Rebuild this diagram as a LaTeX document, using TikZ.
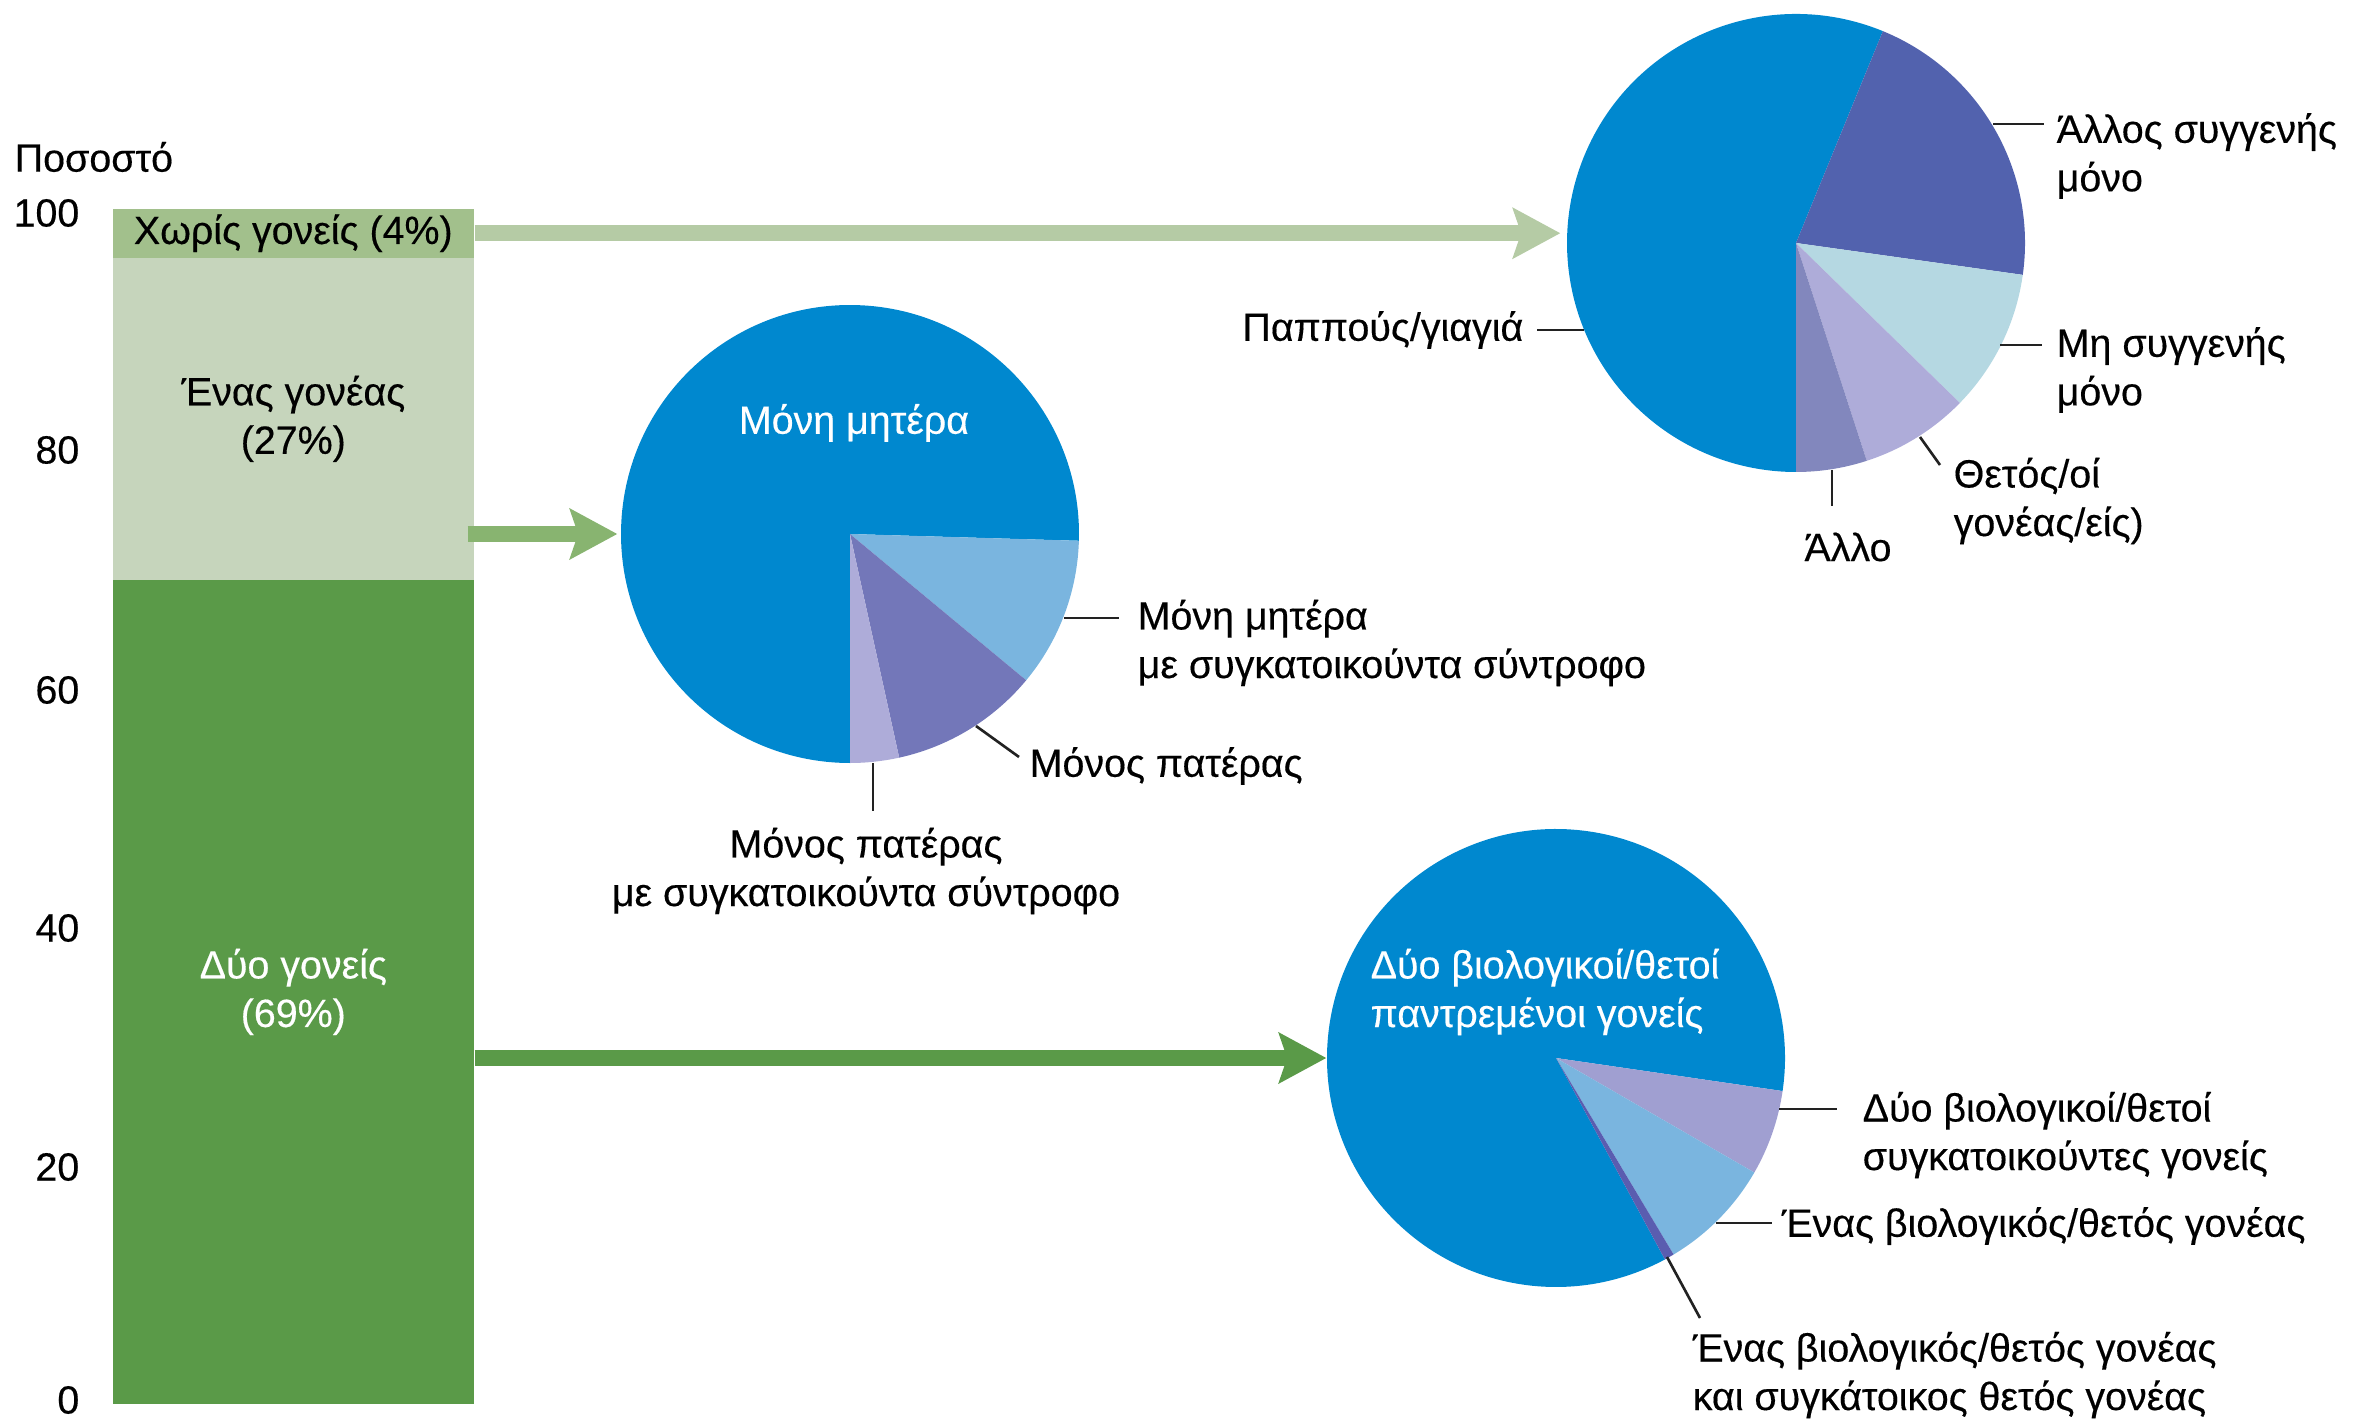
\documentclass[tikz,border=0pt]{standalone}
\usepackage{fontspec}
\setmainfont{Liberation Sans}[FakeBold=0.35]
\usetikzlibrary{arrows.meta}
\definecolor{segTopC}{HTML}{A2C08C}
\definecolor{segMidC}{HTML}{C6D5BC}
\definecolor{segBotC}{HTML}{5A9A48}
\definecolor{arrAC}{HTML}{B5CBA5}
\definecolor{arrBC}{HTML}{88B470}
\definecolor{arrCC}{HTML}{5A9A48}
\definecolor{pieBlue}{HTML}{0088CF}
\definecolor{pIndigo}{HTML}{5262AE}
\definecolor{pIce}{HTML}{B5D8E2}
\definecolor{pLilac}{HTML}{AEACD9}
\definecolor{pSlate}{HTML}{8287BD}
\definecolor{pSky}{HTML}{7AB5DF}
\definecolor{pViolet}{HTML}{7377B9}
\definecolor{pLav}{HTML}{A09FD1}
\definecolor{pDeep}{HTML}{5A5DB0}
\definecolor{leadC}{HTML}{222222}
\begin{document}
\begin{tikzpicture}[x=0.01cm,y=0.01cm,
  lbl/.style={font=\fontsize{11.2}{13.8}\selectfont, inner sep=0pt, text=black},
  seg/.style={rectangle, inner sep=0pt, minimum width=3.61cm, anchor=north west, align=center, font=\fontsize{11.2}{13.8}\selectfont},
  piebase/.style={circle, minimum size=4.58cm, inner sep=0pt},
  leader/.style={draw=leadC, line width=0.75pt},
  bigarrow/.style={line width=0.16cm, -{Stealth[length=0.48cm, width=0.52cm, inset=0.09cm, line width=0pt]}}
]
\useasboundingbox (0,0) rectangle (2366,1423);

% axis labels
\node[lbl, anchor=west] (axT) at (14,1266) {Ποσοστό};
\node[lbl, anchor=east] (ax100) at (80,1210) {100};
\node[lbl, anchor=east] (ax80) at (80,973) {80};
\node[lbl, anchor=east] (ax60) at (80,733) {60};
\node[lbl, anchor=east] (ax40) at (80,495) {40};
\node[lbl, anchor=east] (ax20) at (80,256) {20};
\node[lbl, anchor=east] (ax0) at (80,23) {0};

% stacked bar
\node[seg, fill=segTopC, minimum height=0.49cm] (segTop) at (112,1215) {Χωρίς γονείς (4\%)};
\node[seg, fill=segMidC, minimum height=3.22cm] (segMid) at (112,1166) {Ένας γονέας\\(27\%)};
\node[seg, fill=segBotC, minimum height=8.24cm, text=white] (segBot) at (112,844) {Δύο γονείς\\(69\%)};

% pies
\node[piebase] (pieA) at (1796,1180) {};
\node[piebase] (pieB) at (850,889) {};
\node[piebase] (pieC) at (1556,365) {};

% pie A slices
\fill[pieBlue] (pieA.center) -- ++(67.7:229) arc[start angle=67.7, end angle=270, radius=229] -- cycle;
\fill[pIndigo] (pieA.center) -- ++(-8:229) arc[start angle=-8, end angle=67.7, radius=229] -- cycle;
\fill[pIce] (pieA.center) -- ++(-44.3:229) arc[start angle=-44.3, end angle=-8, radius=229] -- cycle;
\fill[pLilac] (pieA.center) -- ++(-72:229) arc[start angle=-72, end angle=-44.3, radius=229] -- cycle;
\fill[pSlate] (pieA.center) -- ++(-90:229) arc[start angle=-90, end angle=-72, radius=229] -- cycle;

% pie B slices
\fill[pieBlue] (pieB.center) -- ++(-1.7:229) arc[start angle=-1.7, end angle=270, radius=229] -- cycle;
\fill[pSky] (pieB.center) -- ++(-39.7:229) arc[start angle=-39.7, end angle=-1.7, radius=229] -- cycle;
\fill[pViolet] (pieB.center) -- ++(-77.6:229) arc[start angle=-77.6, end angle=-39.7, radius=229] -- cycle;
\fill[pLilac] (pieB.center) -- ++(-90:229) arc[start angle=-90, end angle=-77.6, radius=229] -- cycle;

% pie C slices
\fill[pieBlue] (pieC.center) -- ++(-8.3:229) arc[start angle=-8.3, end angle=298.4, radius=229] -- cycle;
\fill[pLav] (pieC.center) -- ++(-30:229) arc[start angle=-30, end angle=-8.3, radius=229] -- cycle;
\fill[pSky] (pieC.center) -- ++(-59.1:229) arc[start angle=-59.1, end angle=-30, radius=229] -- cycle;
\fill[pDeep] (pieC.center) -- ++(-61.6:229) arc[start angle=-61.6, end angle=-59.1, radius=229] -- cycle;

% arrows
\draw[bigarrow, arrAC, shorten >=0.06cm] (segTop.east) -- (segTop.east -| pieA.west);
\draw[bigarrow, arrBC, shorten >=0.03cm] ([xshift=-0.07cm]segMid.east |- pieB.west) -- (pieB.west);
\draw[bigarrow, arrCC] (segBot.east |- pieC.west) -- (pieC.west);

% inner white labels
\node[lbl, text=white] (tB) at (854,1000) {Μόνη μητέρα};
\node[lbl, text=white, anchor=west, align=left] (tC) at (1370,431) {Δύο βιολογικοί/θετοί\\παντρεμένοι γονείς};

% pie A labels
\node[lbl, anchor=west, align=left] (lA1) at (2056,1267) {Άλλος συγγενής\\μόνο};
\node[lbl, anchor=west, align=left] (lA2) at (2056,1053) {Μη συγγενής\\μόνο};
\node[lbl, anchor=west, align=left] (lA3) at (1953,922) {Θετός/οί\\γονέας/είς)};
\node[lbl] (lA4) at (1848,876) {Άλλο};
\node[lbl, anchor=east] (lA5) at (1524,1093) {Παππούς/γιαγιά};
\coordinate (a1s) at (1993,1299); \coordinate (a1e) at (2044,1299);
\coordinate (a2s) at (2000,1078); \coordinate (a2e) at (2042,1078);
\coordinate (a3s) at (1920,986);  \coordinate (a3e) at (1940,958);
\coordinate (a4s) at (1832,953);  \coordinate (a4e) at (1832,917);
\coordinate (a5s) at (1584,1093); \coordinate (a5e) at (1537,1093);
\draw[leader] (a1s) -- (a1e);
\draw[leader] (a2s) -- (a2e);
\draw[leader] (a3s) -- (a3e);
\draw[leader] (a4s) -- (a4e);
\draw[leader] (a5s) -- (a5e);

% pie B labels
\node[lbl, anchor=west, align=left] (lB1) at (1137,780) {Μόνη μητέρα\\με συγκατοικούντα σύντροφο};
\node[lbl, anchor=west] (lB2) at (1029,657) {Μόνος πατέρας};
\node[lbl, align=center] (lB3) at (866,552) {Μόνος πατέρας\\με συγκατοικούντα σύντροφο};
\coordinate (b1s) at (1064,805); \coordinate (b1e) at (1119,805);
\coordinate (b2s) at (976,697);  \coordinate (b2e) at (1019,666);
\coordinate (b3s) at (873,660);  \coordinate (b3e) at (873,612);
\draw[leader] (b1s) -- (b1e);
\draw[leader] (b2s) -- (b2e);
\draw[leader] (b3s) -- (b3e);

% pie C labels
\node[lbl, anchor=west, align=left] (lC1) at (1862,288) {Δύο βιολογικοί/θετοί\\συγκατοικούντες γονείς};
\node[lbl, anchor=west] (lC2) at (1781,197) {Ένας βιολογικός/θετός γονέας};
\node[lbl, anchor=west, align=left] (lC3) at (1692,48) {Ένας βιολογικός/θετός γονέας\\και συγκάτοικος θετός γονέας};
\coordinate (c1s) at (1779,314); \coordinate (c1e) at (1837,314);
\coordinate (c2s) at (1716,200); \coordinate (c2e) at (1772,200);
\coordinate (c3s) at (1667,166); \coordinate (c3e) at (1700,105);
\draw[leader] (c1s) -- (c1e);
\draw[leader] (c2s) -- (c2e);
\draw[leader] (c3s) -- (c3e);
\end{tikzpicture}
\end{document}
